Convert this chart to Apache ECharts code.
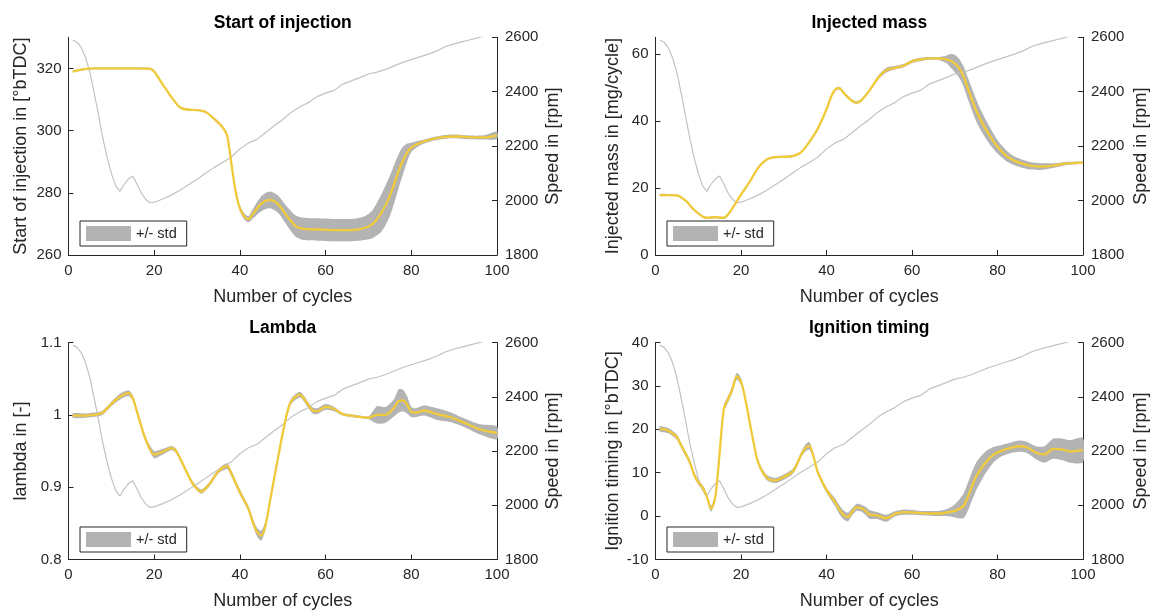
<!DOCTYPE html>
<html><head><meta charset="utf-8">
<script src="https://cdn.jsdelivr.net/npm/echarts@6/dist/echarts.min.js"></script>
<style>html,body{margin:0;padding:0;background:#fff}#c{width:1157px;height:612px}</style>
</head><body><div id="c"></div><script>
// ---------------- data ----------------
const speedCycles = [1,2,3,4,5,6,7,8,9,10,11,12,13,14,15,16,17,18,19,20,22,24,26,28,30,32,34,36,38,40,42,44,46,48,50,52,54,56,58,60,62,64,66,68,70,72,74,76,78,80,82,84,86,88,90,92,94,96,98,100];
const speedRpm = [2590,2582,2562,2525,2470,2395,2315,2230,2160,2100,2055,2034,2060,2080,2090,2060,2027,2005,1992,1994,2006,2020,2038,2058,2078,2100,2122,2140,2160,2190,2212,2225,2250,2275,2298,2325,2345,2360,2382,2395,2405,2428,2440,2452,2465,2472,2482,2495,2508,2518,2528,2538,2550,2566,2576,2584,2592,2600,2610,2618];

const soiCycles = [1,3,6,10,15,19,20,22,24,26,28,30,32,34,36,37,38,39,40,41,42,43,45,47,49,51,53,55,58,62,66,69,71,73,75,77,78,79,80,82,85,88,91,94,97,100];
const soiMean = [319.0,319.6,320.0,320.0,320.0,319.9,319.0,314.8,310.8,307.5,306.7,306.6,306.0,303.8,301.0,298.5,289.5,280.5,275.0,272.5,271.5,273.2,276.5,277.7,276.2,272.5,269.3,268.4,268.2,268.0,268.0,268.6,270.0,273.5,279.0,286.8,290.2,292.8,294.6,296.0,297.3,298.0,298.1,297.8,297.8,298.5];
const soiStd = [0.3,0.3,0.3,0.3,0.3,0.3,0.3,0.3,0.3,0.3,0.3,0.3,0.3,0.3,0.5,0.8,1.0,1.0,1.0,1.0,1.0,1.5,2.4,2.7,2.8,3.0,3.4,3.6,3.6,3.6,3.6,3.8,4.5,6.0,6.5,5.5,4.5,3.0,1.5,0.8,0.6,0.6,0.6,0.6,0.7,1.2];

const massCycles = [1,3,5,7,9,11,12,14,16,17,18,19,20,22,24,26,28,30,32,34,36,38,40,41,42,43,44,46,47,48,50,52,54,56,58,60,62,64,66,68,69,70,71,72,73,74,75,76,78,80,82,84,86,88,90,93,96,100];
const massMean = [17.9,17.9,17.8,16.3,13.5,11.5,11.1,11.3,11.1,12.2,14.0,16.0,18.0,21.8,26.0,28.5,29.2,29.3,29.5,30.6,33.8,37.8,43.5,47.0,49.3,49.8,48.4,46.0,45.5,46.0,49.0,52.8,55.2,55.9,56.5,57.8,58.4,58.7,58.7,58.4,58.0,57.2,55.8,53.5,50.0,46.5,43.2,40.5,36.0,32.3,29.7,28.1,27.2,26.6,26.4,26.7,27.3,27.6];
const massStd = [0.3,0.3,0.3,0.3,0.3,0.3,0.3,0.3,0.3,0.3,0.3,0.3,0.3,0.3,0.3,0.3,0.3,0.3,0.3,0.3,0.3,0.3,0.3,0.3,0.4,0.4,0.4,0.4,0.4,0.4,0.4,0.6,0.7,0.5,0.5,0.5,0.5,0.4,0.4,1.1,2.0,2.6,2.8,3.0,3.2,3.3,3.3,3.0,2.6,2.0,1.6,1.3,1.2,1.1,1.0,0.7,0.5,0.3];

const lamCycles = [1,4,7,8,10,12,14,15,16,18,20,22,24,25,27,29,31,33,35,37,38,40,42,43,44,45,46,47,48,49,50,51,52,54,55,56,57,58,60,62,64,67,70,72,74,76,77,78,79,80,81,83,86,89,92,96,100];
const lamMean = [0.999,0.999,1.001,1.003,1.015,1.025,1.030,1.023,1.004,0.966,0.945,0.949,0.954,0.951,0.928,0.905,0.894,0.905,0.922,0.929,0.919,0.893,0.870,0.852,0.838,0.833,0.848,0.880,0.912,0.944,0.975,1.002,1.019,1.028,1.022,1.013,1.006,1.005,1.011,1.008,1.001,0.998,0.996,1.000,1.000,1.010,1.019,1.020,1.014,1.004,1.003,1.006,1.001,0.997,0.990,0.980,0.975];
const lamStd = [0.003,0.003,0.003,0.003,0.003,0.004,0.004,0.004,0.004,0.004,0.005,0.004,0.003,0.003,0.003,0.003,0.003,0.003,0.003,0.004,0.004,0.004,0.004,0.005,0.006,0.007,0.006,0.005,0.005,0.005,0.005,0.005,0.004,0.004,0.004,0.004,0.004,0.004,0.004,0.003,0.002,0.002,0.002,0.012,0.011,0.012,0.016,0.015,0.012,0.007,0.006,0.007,0.008,0.007,0.006,0.007,0.009];

const ignCycles = [1,3,5,6,8,9,10,11,12,13,14,15,16,17,18,19,20,21,22,23,24,26,28,30,32,33,34,35,36,37,38,40,42,43,44,45,46,47,48,49,50,52,54,56,58,62,66,68,70,72,73,74,75,77,79,81,83,85,87,89,91,93,95,97,100];
const ignMean = [20.1,19.7,18.2,16.3,12.5,9.6,7.8,6.6,4.5,1.7,4.5,14.5,24.8,27.0,29.3,32.2,31.0,27.0,21.8,16.7,12.4,8.9,8.2,9.0,10.2,11.8,14.0,15.6,16.2,13.6,10.0,6.0,3.2,1.5,0.3,-0.2,1.0,2.0,1.9,1.3,0.4,0.1,-0.5,0.5,0.9,0.7,0.6,0.8,1.2,2.3,4.3,6.8,9.1,12.1,14.1,15.1,15.7,16.1,15.8,14.6,14.2,15.5,15.4,14.9,15.2];
const ignStd = [0.6,0.6,0.6,0.6,0.6,0.6,0.6,0.6,0.6,0.7,0.8,0.8,0.8,0.8,0.8,0.8,0.8,0.6,0.6,0.6,0.6,0.6,0.6,0.6,0.6,0.6,0.6,0.8,0.9,0.6,0.6,0.6,0.9,1.0,1.0,1.0,0.8,0.8,0.8,0.9,1.0,0.8,0.8,0.6,0.6,0.5,0.6,0.8,1.5,2.8,3.2,3.3,3.2,2.6,1.8,1.3,1.2,1.3,1.3,1.5,1.9,2.3,2.5,2.6,2.8];

const xTicks = [0,20,40,60,80,100];
const speedTicks = [1800,2000,2200,2400,2600];
const soiTicks = [260,280,300,320];
const massTicks = [0,20,40,60];
const lamTicks = [0.8,0.9,1,1.1];
const ignTicks = [-10,0,10,20,30,40];

// ---------------- chart ----------------
const FONT = '"Liberation Sans", Arial, Helvetica, sans-serif';
const INK = '#262626';
const YELLOW = '#F1CA3A';
const BAND = '#B3B3B3';
const SPEEDC = '#C2C2C2';

const panels = [
  {title:'Start of injection', yName:'Start of injection in [°bTDC]', cycles:soiCycles, mean:soiMean, std:soiStd, ymin:260, ymax:330, ticks:soiTicks,
   grid:{left:68.5, top:37.3, width:428.5, height:217.7}, legend:{left:80, top:221}, titleTop:14.5, nameGap:38, rGap:47},
  {title:'Injected mass', yName:'Injected mass in [mg/cycle]', cycles:massCycles, mean:massMean, std:massStd, ymin:0, ymax:65, ticks:massTicks,
   grid:{left:655.5, top:37.3, width:427.5, height:217.7}, legend:{left:667, top:221}, titleTop:14.5, nameGap:33, rGap:49},
  {title:'Lambda', yName:'lambda in [-]', cycles:lamCycles, mean:lamMean, std:lamStd, ymin:0.8, ymax:1.1, ticks:lamTicks,
   grid:{left:68.5, top:342.5, width:428.5, height:217}, legend:{left:80, top:527}, titleTop:319.5, nameGap:38, rGap:47},
  {title:'Ignition timing', yName:'Ignition timing in [°bTDC]', cycles:ignCycles, mean:ignMean, std:ignStd, ymin:-10, ymax:40, ticks:ignTicks,
   grid:{left:655.5, top:342.5, width:427.5, height:217}, legend:{left:667, top:527}, titleTop:319.5, nameGap:33, rGap:49}
];

const axisLine = {show:true, onZero:false, lineStyle:{color:INK, width:1}};
const axisTick = {show:true, inside:true, length:5, lineStyle:{color:INK, width:1}};
const axisLabel = {color:INK, fontSize:15, fontFamily:FONT, formatter:v => String(v)};
const nameStyle = {color:INK, fontSize:18, fontFamily:FONT};

function bandRender(params, api) {
  if (params.dataIndexInside !== 0) return null;
  const n = params.dataInsideLength;
  const up = [], lo = [];
  for (let k = 0; k < n; k++) {
    const x = api.value(0, k);
    up.push(api.coord([x, api.value(2, k)]));
    lo.push(api.coord([x, api.value(1, k)]));
  }
  return {type:'polygon', shape:{points:up.concat(lo.reverse()), smooth:0.25}, style:{fill:BAND, stroke:null}, silent:true};
}

const option = {animation:false, textStyle:{fontFamily:FONT}, title:[], legend:[], grid:[], xAxis:[], yAxis:[], series:[]};

panels.forEach((p, i) => {
  option.grid.push(Object.assign({containLabel:false}, p.grid));
  option.title.push({text:p.title, left:p.grid.left + p.grid.width/2, top:p.titleTop, textAlign:'center', padding:0,
    textStyle:{fontSize:17.5, fontWeight:'bold', color:'#000', fontFamily:FONT}});
  option.legend.push({data:[{name:'+/- std', icon:'rect'}], left:p.legend.left, top:p.legend.top, orient:'horizontal',
    itemWidth:45, itemHeight:15, padding:[5,10,5,6], borderColor:INK, borderWidth:1, backgroundColor:'#fff', borderRadius:0,
    selectedMode:false, itemStyle:{color:BAND, borderWidth:0}, textStyle:{fontSize:14.5, color:INK, fontFamily:FONT}});
  option.xAxis.push({type:'value', gridIndex:i, min:0, max:100, interval:20,
    name:'Number of cycles', nameLocation:'middle', nameGap:33, nameTextStyle:nameStyle,
    axisLine:axisLine, axisTick:Object.assign({customValues:xTicks}, axisTick), axisLabel:Object.assign({margin:8, customValues:xTicks}, axisLabel), splitLine:{show:false}});
  option.yAxis.push({type:'value', gridIndex:i, position:'left', min:p.ymin, max:p.ymax,
    name:p.yName, nameLocation:'middle', nameGap:p.nameGap, nameTextStyle:nameStyle,
    axisLine:axisLine, axisTick:Object.assign({customValues:p.ticks}, axisTick), axisLabel:Object.assign({margin:7, customValues:p.ticks}, axisLabel), splitLine:{show:false}});
  option.yAxis.push({type:'value', gridIndex:i, position:'right', min:1800, max:2600, interval:200,
    name:'Speed in [rpm]', nameLocation:'middle', nameGap:p.rGap, nameTextStyle:nameStyle,
    axisLine:axisLine, axisTick:Object.assign({customValues:speedTicks}, axisTick), axisLabel:Object.assign({margin:8, customValues:speedTicks}, axisLabel), splitLine:{show:false}});

  option.series.push({type:'line', name:'speed'+i, xAxisIndex:i, yAxisIndex:2*i+1, data:speedCycles.map((c,k)=>[c, speedRpm[k]]),
    showSymbol:false, symbol:'none', smooth:false, lineStyle:{color:SPEEDC, width:1.2}, silent:true, emphasis:{disabled:true}, clip:true});
  option.series.push({type:'custom', name:'+/- std', xAxisIndex:i, yAxisIndex:2*i, renderItem:bandRender, clip:true,
    encode:{x:0, y:[1,2]}, itemStyle:{color:BAND}, silent:true,
    data:p.cycles.map((c,k)=>[c, p.mean[k]-p.std[k], p.mean[k]+p.std[k]])});
  option.series.push({type:'line', name:'mean'+i, xAxisIndex:i, yAxisIndex:2*i, data:p.cycles.map((c,k)=>[c, p.mean[k]]),
    symbol:'none', smooth:0.3, lineStyle:{color:YELLOW, width:2.3}, silent:true, emphasis:{disabled:true}});
});

const chart = echarts.init(document.getElementById('c'), null, {renderer:'canvas'});
chart.setOption(option);
</script></body></html>
